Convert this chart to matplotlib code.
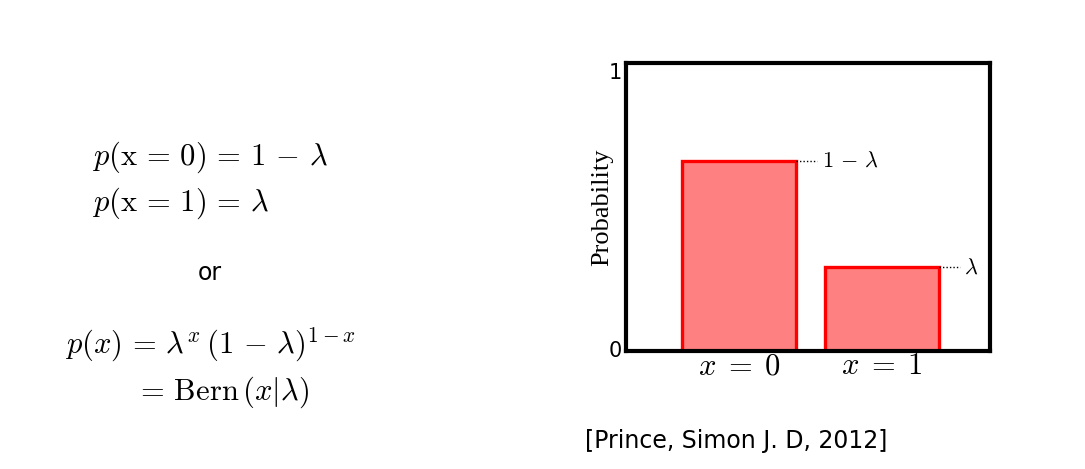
import numpy as np
import matplotlib
matplotlib.use("Agg")
import matplotlib.pyplot as plt

plt.rcParams['mathtext.fontset'] = 'cm'

# bar data
categories = [r'$x\;=\;0$', r'$x\;=\;1$']
probs = [0.66, 0.29]
bar_labels = [r'$1\,-\,\lambda$', r'$\lambda$']

fig = plt.figure(figsize=(10.85, 4.69), dpi=100)

# left side: the formulas
fs = 22
fig.text(92 / 1085, 1 - 157 / 469, r'$p(\mathrm{x}\,=\,0)\,=\,1\,-\,\lambda$', fontsize=fs, va='center', ha='left')
fig.text(92 / 1085, 1 - 203 / 469, r'$p(\mathrm{x}\,=\,1)\,=\,\lambda$', fontsize=fs, va='center', ha='left')
fig.text(210 / 1085, 1 - 273 / 469, 'or', fontsize=17, va='center', ha='center')
fig.text(65 / 1085, 1 - 345 / 469, r'$p(x)\,=\,\lambda^{x}\,(1\,-\,\lambda)^{1-x}$', fontsize=fs, va='center', ha='left')
fig.text(135 / 1085, 1 - 392 / 469, r'$=\,\mathrm{Bern}\,(x|\lambda)$', fontsize=fs, va='center', ha='left')

# right side: bar chart
ax = fig.add_axes([626 / 1085, 1 - 351 / 469, 364 / 1085, 288 / 469])
x = np.arange(len(probs))
width = 0.8
ax.bar(x, probs, width=width, color='#ff8080', edgecolor='#ff0000', linewidth=2.4)
for xi, p, lab in zip(x, probs, bar_labels):
    ax.plot([xi + width / 2, xi + width / 2 + 0.15], [p, p], color='black', linestyle=(0, (1, 1.5)), linewidth=1)
    ax.text(xi + width / 2 + 0.18, p, lab, fontsize=16, va='center', ha='left')

ax.set_xlim(-0.793, 1.761)
ax.set_ylim(0, 1)
ax.set_xticks(x)
ax.set_xticklabels(categories, fontsize=22)
ax.set_yticks([0, 1])
ax.set_yticklabels(['0', '1'], fontsize=15)
ax.get_yticklabels()[1].set_va('top')
ax.get_yticklabels()[0].set_va('center')
ax.tick_params(length=0, pad=3)
ax.tick_params(axis='x', pad=0)
for s in ax.spines.values():
    s.set_linewidth(3)
ax.set_ylabel('Probability', family='Liberation Serif', fontsize=19)
ax.yaxis.set_label_coords(-0.035, 0.5)

fig.text(585 / 1085, 1 - 441 / 469, '[Prince, Simon J. D, 2012]', fontsize=17, va='center', ha='left')

fig.savefig('out.png', dpi=100)
